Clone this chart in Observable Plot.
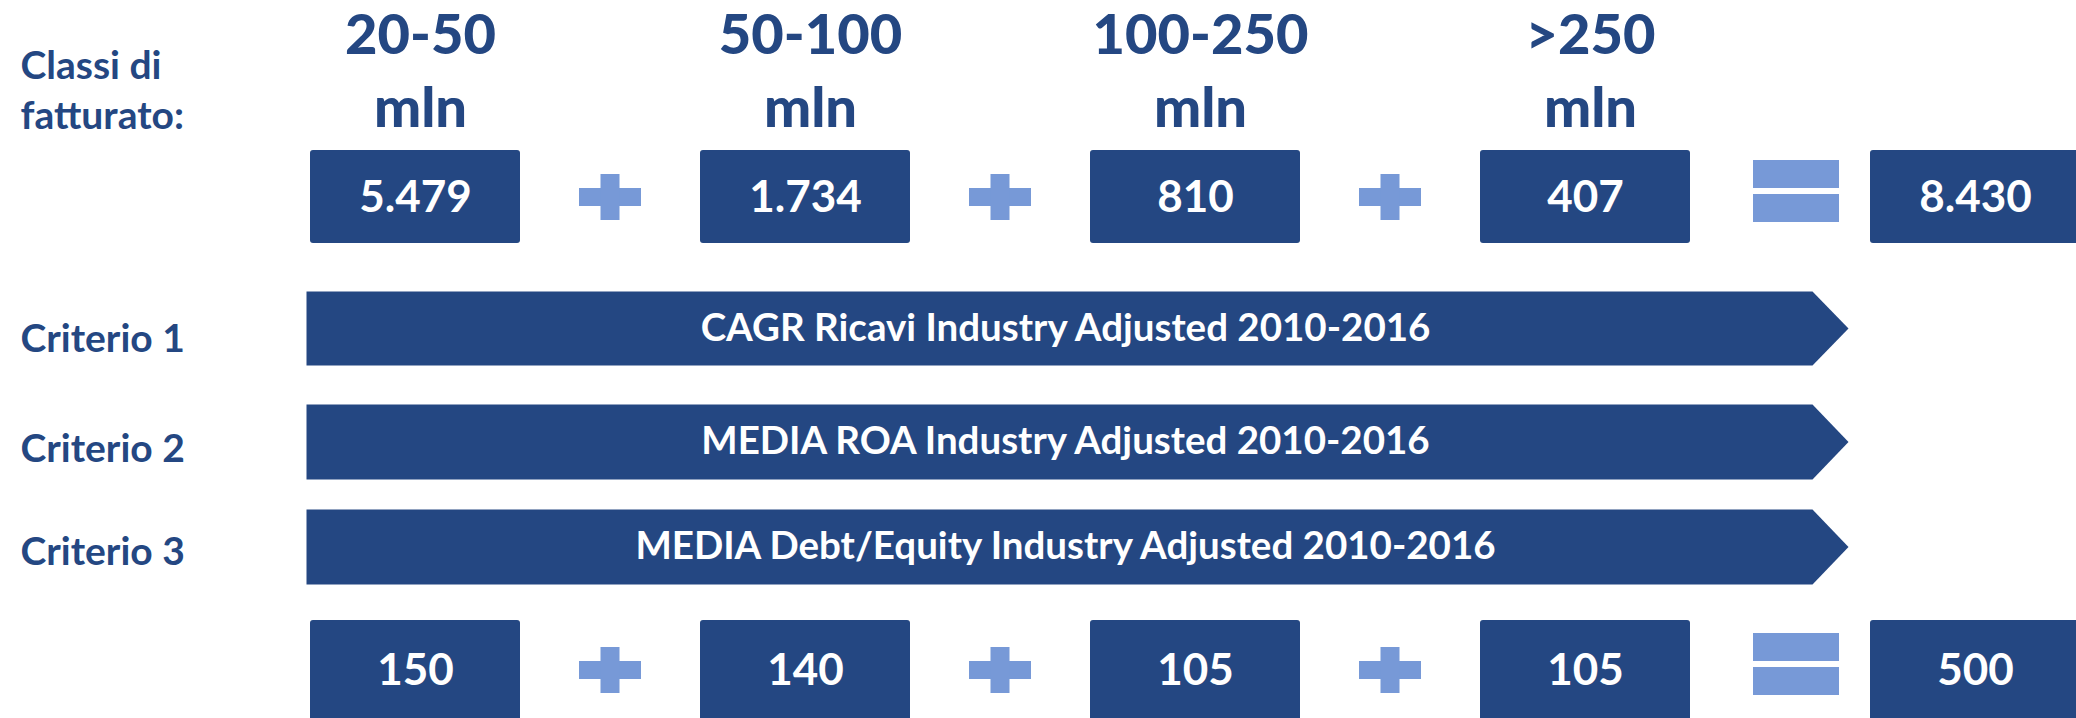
<!DOCTYPE html>
<html>
<head>
<meta charset="utf-8">
<script src="https://cdn.jsdelivr.net/npm/d3@7"></script>
<script src="https://cdn.jsdelivr.net/npm/@observablehq/plot@0.6"></script>
<style>
  html, body { margin: 0; padding: 0; background: #ffffff; overflow: hidden; }
  #chart svg { display: block; }
</style>
</head>
<body>
<div id="chart"></div>
<script>
// ---------- data ----------
const rowTitle = "Classi di fatturato:";
const classes = ["20-50 mln", "50-100 mln", "100-250 mln", ">250 mln"];
const companies = [5479, 1734, 810, 407];          // imprese per classe
const selected = [150, 140, 105, 105];              // imprese selezionate
const criteria = ["Criterio 1", "Criterio 2", "Criterio 3"];
const criteriaDesc = [
  "CAGR Ricavi Industry Adjusted 2010-2016",
  "MEDIA ROA Industry Adjusted 2010-2016",
  "MEDIA Debt/Equity Industry Adjusted 2010-2016"
];
const operators = ["+", "+", "+", "="];

// ---------- layout (px) ----------
const W = 2076, H = 718;
const STEP = 195;                 // px per slot on the x scale
const px = v => v / STEP;         // px -> slot units
const DARK = "#244782", LIGHT = "#7799D7";
const FONT = "Lato, 'Open Sans', sans-serif";
const fmt = d3.formatLocale({decimal: ",", thousands: ".", grouping: [3], currency: ["€", ""]}).format(",");

const rows = {
  headTop: 1,
  top: {y1: 150, y2: 243, mid: 197},
  bottom: {y1: 620, y2: 724, mid: 670},
  arrows: [{y1: 291, y2: 365}, {y1: 404, y2: 479}, {y1: 509, y2: 584}],
  critLabel: [339, 449, 552],
  classTitle: 43
};
const boxHalf = px(105);

const topBoxes = [...companies, d3.sum(companies)].map((v, i) => ({slot: 2 * i, value: v}));
const botBoxes = [...selected, d3.sum(selected)].map((v, i) => ({slot: 2 * i, value: v}));
const heads = classes.map((c, i) => ({slot: 2 * i + px(5), label: c.replace(" ", "\n")}));

// operator glyph pieces (rects) for both rows
const opRects = [];
for (const mid of [rows.top.mid, rows.bottom.mid]) {
  operators.forEach((op, i) => {
    const s = 2 * i + 1;
    if (op === "+") {
      opRects.push({x1: s - px(31), x2: s + px(31), y1: mid - 9, y2: mid + 9});
      opRects.push({x1: s - px(9.5), x2: s + px(9.5), y1: mid - 23, y2: mid + 23});
    } else {
      const c = s + px(16), m = mid - 6;
      opRects.push({x1: c - px(43), x2: c + px(43), y1: m - 31, y2: m - 3});
      opRects.push({x1: c - px(43), x2: c + px(43), y1: m + 3, y2: m + 31});
    }
  });
}

// chevron arrows for criteria
const xStart = -boxHalf - px(4), xFlat = 7 + px(32), xTip = 7 + px(68);
const arrowPts = [];
criteria.forEach((c, i) => {
  const a = rows.arrows[i], m = (a.y1 + a.y2) / 2;
  [[xStart, a.y1], [xFlat, a.y1], [xTip, m], [xFlat, a.y2], [xStart, a.y2]]
    .forEach(([x, y]) => arrowPts.push({crit: c, x, y}));
});
const arrowText = criteriaDesc.map((t, i) => ({
  text: t,
  x: (xStart + xTip) / 2 - px(12),
  y: (rows.arrows[i].y1 + rows.arrows[i].y2) / 2
}));

const chart = Plot.plot({
  width: W,
  height: H,
  margin: 0,
  style: {background: "#ffffff", fontFamily: FONT},
  x: {type: "linear", domain: [0, 8], range: [415, 1975], axis: null},
  y: {type: "linear", domain: [0, H], range: [0, H], axis: null},
  marks: [
    // left labels
    Plot.text([rowTitle.replace(" di ", " di\n")], {
      frameAnchor: "left", dx: 20, y: rows.classTitle, text: d => d,
      textAnchor: "start", lineAnchor: "top", lineHeight: 1.28,
      fontSize: 39, fontWeight: 700, fill: DARK
    }),
    Plot.text(criteria, {
      frameAnchor: "left", dx: 20, y: (d, i) => rows.critLabel[i], text: d => d,
      textAnchor: "start", lineAnchor: "middle",
      fontSize: 39, fontWeight: 700, fill: DARK
    }),
    // class headers
    Plot.text(heads, {
      x: "slot", y: rows.headTop, text: "label", lineAnchor: "top", lineHeight: 1.31,
      fontSize: 56, fontWeight: 900, fill: DARK
    }),
    // top boxes
    Plot.rect(topBoxes, {
      x1: d => d.slot - boxHalf, x2: d => d.slot + boxHalf,
      y1: rows.top.y1, y2: rows.top.y2, fill: DARK, rx: 3
    }),
    Plot.text(topBoxes, {
      x: "slot", y: rows.top.mid, text: d => fmt(d.value),
      fontSize: 44, fontWeight: 700, fill: "white"
    }),
    // operators
    Plot.rect(opRects, {x1: "x1", x2: "x2", y1: "y1", y2: "y2", fill: LIGHT}),
    // criteria arrows
    Plot.line(arrowPts, {
      x: "x", y: "y", z: "crit", curve: "linear-closed",
      fill: DARK, stroke: "none"
    }),
    Plot.text(arrowText, {
      x: "x", y: "y", text: "text",
      fontSize: 38.5, fontWeight: 700, fill: "white"
    }),
    // bottom boxes
    Plot.rect(botBoxes, {
      x1: d => d.slot - boxHalf, x2: d => d.slot + boxHalf,
      y1: rows.bottom.y1, y2: rows.bottom.y2, fill: DARK, rx: 3
    }),
    Plot.text(botBoxes, {
      x: "slot", y: rows.bottom.mid, text: d => fmt(d.value),
      fontSize: 44, fontWeight: 700, fill: "white"
    })
  ]
});
document.getElementById("chart").appendChild(chart);
</script>
</body>
</html>
